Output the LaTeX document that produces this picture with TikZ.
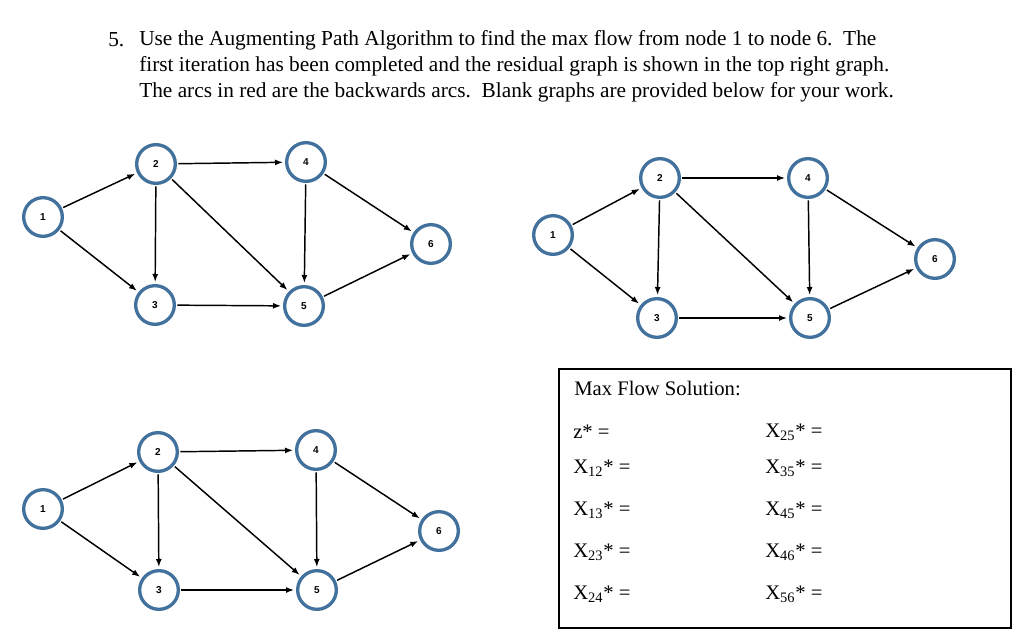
\documentclass[tikz,border=0pt]{standalone}
\usepackage{fontspec}
\setmainfont{Liberation Serif}
\newfontfamily\nodefont{Liberation Sans}
\usetikzlibrary{arrows.meta}
\definecolor{ringblue}{RGB}{65,113,156}
\begin{document}
\begin{tikzpicture}[x=0.75pt,y=-0.75pt,
  vtx/.style={circle,draw=ringblue,line width=2.5pt,minimum size=29pt,inner sep=0pt,fill=white,font=\nodefont\bfseries\fontsize{7.5}{8}\selectfont},
  arc/.style={-{Latex[length=6pt,width=4.5pt]},line width=1.1pt,shorten >=1.5pt,shorten <=1pt},
  txt/.style={anchor=west,inner sep=0pt,font=\fontsize{16}{19}\selectfont},
  sol/.style={anchor=west,inner sep=0pt,font=\fontsize{15.5}{18}\selectfont}]
\useasboundingbox (0,0) rectangle (1024,639);
\node[txt] (n5) at (108,40) {5.};
\node[txt] (l1) at (139,40) {Use the Augmenting Path Algorithm to find the max flow from node 1 to node 6.\ \ The};
\node[txt] (l2) at (139,66) {first iteration has been completed and the residual graph is shown in the top right graph.};
\node[txt] (l3) at (139,92) {The arcs in red are the backwards arcs.\ \ Blank graphs are provided below for your work.};
\foreach \g/\ax/\ay/\bx/\by/\cx/\cy/\dx/\dy/\ex/\ey/\fx/\fy in {
  a/43/217/156/164/155/305/306/162/304/306/431/244,
  b/553/235/660/178/657/318/808/178/810/318/935/259,
  c/43/509/158/452/159/590/316/450/317/590/439/531}{
  \node[vtx] (\g1) at (\ax,\ay) {1};
  \node[vtx] (\g2) at (\bx,\by) {2};
  \node[vtx] (\g3) at (\cx,\cy) {3};
  \node[vtx] (\g4) at (\dx,\dy) {4};
  \node[vtx] (\g5) at (\ex,\ey) {5};
  \node[vtx] (\g6) at (\fx,\fy) {6};
  \draw[arc] (\g1) -- (\g2);
  \draw[arc] (\g1) -- (\g3);
  \draw[arc] (\g2) -- (\g4);
  \draw[arc] (\g2) -- (\g3);
  \draw[arc] (\g2) -- (\g5);
  \draw[arc] (\g3) -- (\g5);
  \draw[arc] (\g4) -- (\g5);
  \draw[arc] (\g4) -- (\g6);
  \draw[arc] (\g5) -- (\g6);
}
\draw[line width=0.8pt] (559,369) rectangle (1011,628);
\node[sol] (mf) at (574,388) {Max Flow Solution:};
\node[sol] (z) at (573,432) {z* =};
\node[sol] (x12) at (573,468) {X\textsubscript{12}* =};
\node[sol] (x13) at (573,510) {X\textsubscript{13}* =};
\node[sol] (x23) at (573,552) {X\textsubscript{23}* =};
\node[sol] (x24) at (573,594) {X\textsubscript{24}* =};
\node[sol] (x25) at (765,432) {X\textsubscript{25}* =};
\node[sol] (x35) at (765,468) {X\textsubscript{35}* =};
\node[sol] (x45) at (765,510) {X\textsubscript{45}* =};
\node[sol] (x46) at (765,552) {X\textsubscript{46}* =};
\node[sol] (x56) at (765,594) {X\textsubscript{56}* =};
\end{tikzpicture}
\end{document}
